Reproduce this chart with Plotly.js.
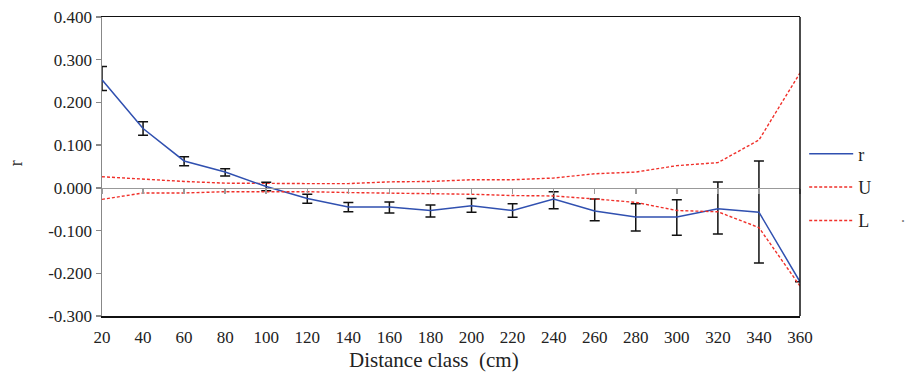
<!DOCTYPE html>
<html>
<head>
<meta charset="utf-8">
<script src="https://cdn.plot.ly/plotly-3.0.1.min.js"></script>
<style>html,body{margin:0;padding:0;background:#fff;}#chart{width:905px;height:372px;}</style>
</head>
<body>
<div id="chart"></div>
<script>
const distance = [20, 40, 60, 80, 100, 120, 140, 160, 180, 200, 220, 240, 260, 280, 300, 320, 340, 360];
const rValues = [0.253, 0.139, 0.063, 0.037, 0.003, -0.025, -0.045, -0.045, -0.053, -0.042, -0.053, -0.026, -0.054, -0.068, -0.068, -0.049, -0.057, -0.220];
const rErrPlus = [0.031, 0.016, 0.010, 0.008, 0.010, 0.010, 0.011, 0.012, 0.013, 0.017, 0.016, 0.017, 0.028, 0.031, 0.040, 0.063, 0.120, 0];
const rErrMinus = [0.025, 0.016, 0.011, 0.009, 0.010, 0.011, 0.011, 0.014, 0.015, 0.015, 0.016, 0.023, 0.023, 0.033, 0.043, 0.059, 0.119, 0];
const upper = [0.026, 0.020, 0.015, 0.011, 0.010, 0.010, 0.010, 0.014, 0.015, 0.019, 0.019, 0.023, 0.033, 0.037, 0.052, 0.059, 0.112, 0.269];
const lower = [-0.027, -0.012, -0.012, -0.009, -0.009, -0.009, -0.011, -0.012, -0.014, -0.015, -0.018, -0.019, -0.026, -0.034, -0.053, -0.056, -0.093, -0.230];
const yTickVals = [-0.3, -0.2, -0.1, 0, 0.1, 0.2, 0.3, 0.4];
const yTickText = ['-0.300', '-0.200', '-0.100', '0.000', '0.100', '0.200', '0.300', '0.400'];
const seriesNames = ['r', 'U', 'L'];

const FONT = '"Liberation Serif", "Times New Roman", serif';
const RED = '#f0302a';
const BLUE = '#3050b0';

const traces = [
  {
    x: distance, y: upper, name: seriesNames[1], mode: 'lines', legendgroup: 'U', legendrank: 2,
    line: {color: RED, width: 1.4, dash: '3px,2px'}, hoverinfo: 'skip'
  },
  {
    x: distance, y: lower, name: seriesNames[2], mode: 'lines', legendgroup: 'L', legendrank: 3,
    xaxis: 'x2',
    line: {color: RED, width: 1.4, dash: '3px,2px'}, hoverinfo: 'skip'
  },
  {
    x: distance, y: rValues, name: seriesNames[0], mode: 'lines', legendgroup: 'r', legendrank: 1,
    line: {color: BLUE, width: 1.5},
    error_y: {type: 'data', symmetric: false, array: rErrPlus, arrayminus: rErrMinus, color: '#111', thickness: 1.5, width: 5}
  }
];

const layout = {
  width: 905, height: 372,
  margin: {l: 102, r: 105, t: 17, b: 56},
  paper_bgcolor: '#fff', plot_bgcolor: '#fff',
  font: {family: FONT, size: 17, color: '#222'},
  showlegend: true,
  legend: {
    x: 1.006, xanchor: 'left', y: 0.43, yanchor: 'middle',
    font: {family: FONT, size: 18, color: '#222'},
    traceorder: 'grouped', tracegroupgap: 7, itemwidth: 44,
    bgcolor: 'rgba(0,0,0,0)', borderwidth: 0
  },
  xaxis: {
    range: [20, 360], tickmode: 'array', tickvals: distance,
    ticks: '', showgrid: false, zeroline: false, ticklabelstandoff: 5,
    showline: true, linecolor: '#111', linewidth: 1.5, mirror: true,
    tickfont: {family: FONT, size: 17, color: '#222'}
  },
  xaxis2: {
    overlaying: 'x', anchor: 'free', position: 0.3 / 0.7, side: 'bottom',
    range: [20, 360], tickmode: 'array', tickvals: distance,
    ticks: 'outside', ticklen: 5, tickcolor: '#999', tickwidth: 1.5,
    showticklabels: false, showgrid: false, zeroline: false,
    showline: true, linecolor: '#999', linewidth: 1.5
  },
  yaxis: {
    range: [-0.3, 0.4], tickmode: 'array', tickvals: yTickVals, ticktext: yTickText,
    ticks: 'outside', ticklen: 5, tickcolor: '#888', tickwidth: 1.5,
    showgrid: false, zeroline: false,
    showline: true, linecolor: '#888', linewidth: 1.5,
    tickfont: {family: FONT, size: 17, color: '#222'}
  },
  shapes: [
    {type: 'line', xref: 'paper', yref: 'paper', x0: 1, x1: 1, y0: 0, y1: 1, line: {color: '#111', width: 1.5}}
  ],
  annotations: [
    {text: 'Distance class\u00a0\u00a0(cm)', xref: 'paper', yref: 'paper', x: (434 - 102) / 698, y: (316 - 374) / 299,
     xanchor: 'center', yanchor: 'bottom', showarrow: false, font: {family: FONT, size: 21, color: '#222'}},
    {text: 'r', xref: 'paper', yref: 'paper', x: -0.123, y: (316 - 163) / 299, textangle: -90,
     xanchor: 'center', yanchor: 'middle', showarrow: false, font: {family: FONT, size: 18, color: '#222'}},
    {text: '.', xref: 'paper', yref: 'paper', x: (903 - 102) / 698, y: (316 - 216) / 299,
     xanchor: 'center', yanchor: 'middle', showarrow: false, font: {family: FONT, size: 16, color: '#777'}}
  ]
};

Plotly.newPlot('chart', traces, layout, {displayModeBar: false, staticPlot: true});
</script>
</body>
</html>
